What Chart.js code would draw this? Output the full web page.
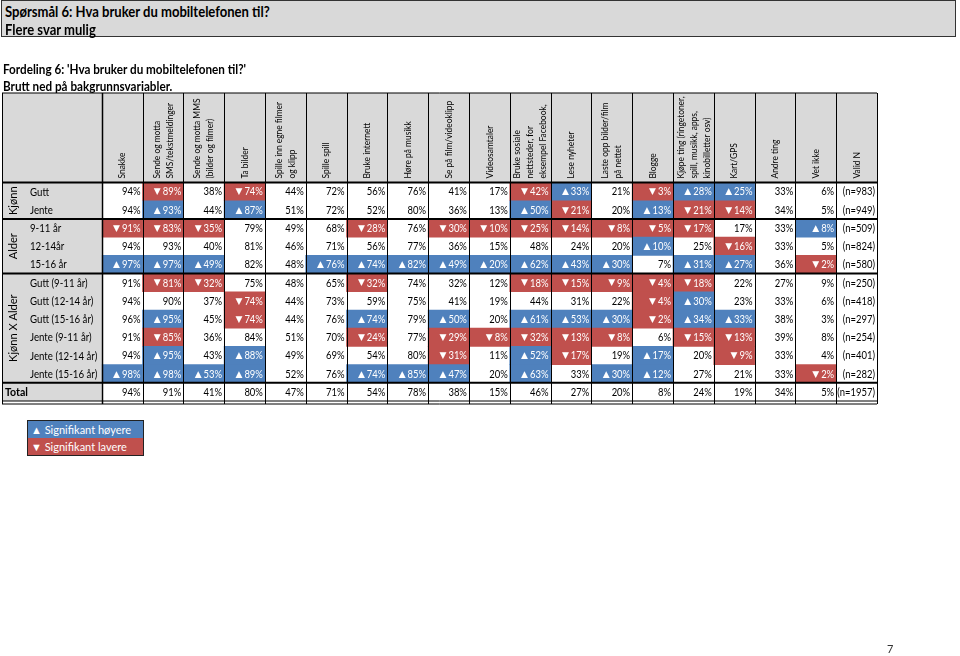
<!DOCTYPE html>
<html>
<head>
<meta charset="utf-8">
<script src="https://cdn.jsdelivr.net/npm/chart.js@4.4.1/dist/chart.umd.min.js"></script>
<style>
  html, body { margin: 0; padding: 0; background: #fff; }
  body { width: 960px; height: 656px; position: relative; overflow: hidden; font-family: Lato, "Noto Sans", sans-serif; }
  #wrap { position: absolute; left: 0; top: 0; width: 960px; height: 656px; }
  .titlebox { position: absolute; left: 1px; top: 0; width: 955px; height: 37px; background: #d9d9d9; border: 1px solid #333; box-sizing: border-box; color: #000; }
  .titlebox span, .sub span { display: block; white-space: nowrap; transform-origin: left center; }
  .titlebox span { font-weight: bold; font-size: 15px; line-height: 18px; transform: scaleX(0.87); margin-left: 3px; }
  .titlebox span:first-child { margin-top: 1px; }
  .sub { position: absolute; left: 3px; top: 61px; color: #000; }
  .sub span { font-weight: bold; font-size: 13px; line-height: 17px; transform: scaleX(0.9); }
  .legend { position: absolute; left: 27px; top: 420px; width: 115px; border: 1px solid #222; font-size: 11px; color: #fff; }
  .legend div { height: 17px; line-height: 17px; padding-left: 3px; }
  .page { position: absolute; left: 887px; top: 642px; font-size: 11px; color: #333; }
</style>
</head>
<body>
<div id="wrap"><canvas id="tablechart" width="960" height="656"></canvas></div>
<div class="titlebox"><span>Spørsmål 6: Hva bruker du mobiltelefonen til?</span><span>Flere svar mulig</span></div>
<div class="sub"><span>Fordeling 6: 'Hva bruker du mobiltelefonen til?'</span><span>Brutt ned på bakgrunnsvariabler.</span></div>
<div class="legend">
  <div style="background:#4f81bd">▲ Signifikant høyere</div>
  <div style="background:#c0504d">▼ Signifikant lavere</div>
</div>
<div class="page">7</div>
<script>
// column headers (each entry = lines of the rotated header)
const columns = [
    ["Snakke"],
    ["Sende og motta", "SMS/tekstmeldinger"],
    ["Sende og motta MMS", "(bilder og filmer)"],
    ["Ta bilder"],
    ["Spille inn egne filmer", "og klipp"],
    ["Spille spill"],
    ["Bruke internett"],
    ["Høre på musikk"],
    ["Se på film/videoklipp"],
    ["Videosamtaler"],
    ["Bruke sosiale", "nettsteder, for", "eksempel Facebook,"],
    ["Lese nyheter"],
    ["Laste opp bilder/film", "på nettet"],
    ["Blogge"],
    ["Kjøpe ting (ringetoner,", "spill, musikk, apps,", "kinobilletter osv)"],
    ["Kart/GPS"],
    ["Andre ting"],
    ["Vet ikke"]
];
const nHeader = ["Valid N"];

const rowLabels = ["Gutt", "Jente", "9-11 år", "12-14år", "15-16 år",
    "Gutt (9-11 år)", "Gutt (12-14 år)", "Gutt (15-16 år)",
    "Jente (9-11 år)", "Jente (12-14 år)", "Jente (15-16 år)", "Total"];

const groupNames = ["Kjønn", "Alder", "Kjønn X Alder"];
const groupStart = [0, 2, 5];
const groupEnd = [1, 4, 10];

// percentages per row
const gutt      = [94, 89, 38, 74, 44, 72, 56, 76, 41, 17, 42, 33, 21, 3, 28, 25, 33, 6];
const jente     = [94, 93, 44, 87, 51, 72, 52, 80, 36, 13, 50, 21, 20, 13, 21, 14, 34, 5];
const age9      = [91, 83, 35, 79, 49, 68, 28, 76, 30, 10, 25, 14, 8, 5, 17, 17, 33, 8];
const age12     = [94, 93, 40, 81, 46, 71, 56, 77, 36, 15, 48, 24, 20, 10, 25, 16, 33, 5];
const age15     = [97, 97, 49, 82, 48, 76, 74, 82, 49, 20, 62, 43, 30, 7, 31, 27, 36, 2];
const gutt9     = [91, 81, 32, 75, 48, 65, 32, 74, 32, 12, 18, 15, 9, 4, 18, 22, 27, 9];
const gutt12    = [94, 90, 37, 74, 44, 73, 59, 75, 41, 19, 44, 31, 22, 4, 30, 23, 33, 6];
const gutt15    = [96, 95, 45, 74, 44, 76, 74, 79, 50, 20, 61, 53, 30, 2, 34, 33, 38, 3];
const jente9    = [91, 85, 36, 84, 51, 70, 24, 77, 29, 8, 32, 13, 8, 6, 15, 13, 39, 8];
const jente12   = [94, 95, 43, 88, 49, 69, 54, 80, 31, 11, 52, 17, 19, 17, 20, 9, 33, 4];
const jente15   = [98, 98, 53, 89, 52, 76, 74, 85, 47, 20, 63, 33, 30, 12, 27, 21, 33, 2];
const total     = [94, 91, 41, 80, 47, 71, 54, 78, 38, 15, 46, 27, 20, 8, 24, 19, 34, 5];

// significance: 1 = significantly higher, -1 = significantly lower
const guttSig    = [0, -1, 0, -1, 0, 0, 0, 0, 0, 0, -1, 1, 0, -1, 1, 1, 0, 0];
const jenteSig   = [0, 1, 0, 1, 0, 0, 0, 0, 0, 0, 1, -1, 0, 1, -1, -1, 0, 0];
const age9Sig    = [-1, -1, -1, 0, 0, 0, -1, 0, -1, -1, -1, -1, -1, -1, -1, 0, 0, 1];
const age12Sig   = [0, 0, 0, 0, 0, 0, 0, 0, 0, 0, 0, 0, 0, 1, 0, -1, 0, 0];
const age15Sig   = [1, 1, 1, 0, 0, 1, 1, 1, 1, 1, 1, 1, 1, 0, 1, 1, 0, -1];
const gutt9Sig   = [0, -1, -1, 0, 0, 0, -1, 0, 0, 0, -1, -1, -1, -1, -1, 0, 0, 0];
const gutt12Sig  = [0, 0, 0, -1, 0, 0, 0, 0, 0, 0, 0, 0, 0, -1, 1, 0, 0, 0];
const gutt15Sig  = [0, 1, 0, -1, 0, 0, 1, 0, 1, 0, 1, 1, 1, -1, 1, 1, 0, 0];
const jente9Sig  = [0, -1, 0, 0, 0, 0, -1, 0, -1, -1, -1, -1, -1, 0, -1, -1, 0, 0];
const jente12Sig = [0, 1, 0, 1, 0, 0, 0, 0, -1, 0, 1, -1, 0, 1, 0, -1, 0, 0];
const jente15Sig = [1, 1, 1, 1, 0, 0, 1, 1, 1, 0, 1, 0, 1, 1, 0, 0, 0, -1];
const totalSig   = [0, 0, 0, 0, 0, 0, 0, 0, 0, 0, 0, 0, 0, 0, 0, 0, 0, 0];

const validN = [983, 949, 509, 824, 580, 250, 418, 297, 254, 401, 282, 1957];

const values = [gutt, jente, age9, age12, age15, gutt9, gutt12, gutt15, jente9, jente12, jente15, total];
const signif = [guttSig, jenteSig, age9Sig, age12Sig, age15Sig, gutt9Sig, gutt12Sig, gutt15Sig, jente9Sig, jente12Sig, jente15Sig, totalSig];

const BLUE = "#4f81bd";
const RED = "#c0504d";
const GREY = "#d9d9d9";
const FONT = "Lato, 'Noto Sans', sans-serif";

function cellColor(s) {
    if (s > 0) return BLUE;
    if (s < 0) return RED;
    return "rgba(0,0,0,0)";
}

// one floating bar per cell: column c covers [c, c+1] on the x scale
const datasets = columns.map((col, c) => ({
    label: col.join(" "),
    data: rowLabels.map(() => [c, c + 1]),
    backgroundColor: rowLabels.map((r, i) => cellColor(signif[i][c])),
    borderWidth: 0,
    grouped: false,
    categoryPercentage: 1,
    barPercentage: 1
}));

function hline(ctx, x1, x2, y, w) {
    ctx.lineWidth = w;
    ctx.beginPath();
    ctx.moveTo(x1, y);
    ctx.lineTo(x2, y);
    ctx.stroke();
}
function vline(ctx, x, y1, y2, w) {
    ctx.lineWidth = w;
    ctx.beginPath();
    ctx.moveTo(x, y1);
    ctx.lineTo(x, y2);
    ctx.stroke();
}
// narrow text a little, the original font is Calibri
function narrowText(ctx, text, x, y, sx) {
    ctx.save();
    ctx.translate(x, y);
    ctx.scale(sx, 1);
    ctx.fillText(text, 0, 0);
    ctx.restore();
}

const tablePlugin = {
    id: "tablePlugin",
    beforeDatasetsDraw(chart) {
        const ctx = chart.ctx;
        const ca = chart.chartArea;
        const xs = chart.scales.x;
        const headTop = ca.top - 89.5;
        const left = 2;
        ctx.save();
        ctx.fillStyle = GREY;
        ctx.fillRect(left, headTop, xs.getPixelForValue(columns.length + 1) - left, ca.top - headTop);
        ctx.fillRect(left, ca.top, xs.getPixelForValue(0) - left, ca.bottom - ca.top);
        ctx.restore();
    },
    afterDatasetsDraw(chart) {
        const ctx = chart.ctx;
        const ca = chart.chartArea;
        const xs = chart.scales.x;
        const rowH = (ca.bottom - ca.top) / rowLabels.length;
        const headTop = ca.top - 89.5;
        const left = 2;
        const xEnd = xs.getPixelForValue(columns.length + 1);
        const rowMid = i => ca.top + (i + 0.5) * rowH;
        const rowEdge = i => ca.top + i * rowH;

        ctx.save();
        // cell values
        ctx.textAlign = "right";
        ctx.textBaseline = "middle";
        values.forEach((row, i) => {
            row.forEach((v, c) => {
                const s = signif[i][c];
                const xr = xs.getPixelForValue(c + 1) - 2;
                const txt = v + "%";
                ctx.font = "10.5px " + FONT;
                ctx.fillStyle = s ? "#fff" : "#000";
                narrowText(ctx, txt, xr, rowMid(i) + 0.5, 0.9);
                if (s) {
                    const w = ctx.measureText(txt).width * 0.9;
                    ctx.font = "9px 'DejaVu Sans', sans-serif";
                    narrowText(ctx, s > 0 ? "▲" : "▼", xr - w - 2, rowMid(i) + 0.5, 1);
                }
            });
            ctx.font = "10.5px " + FONT;
            ctx.fillStyle = "#000";
            narrowText(ctx, "(n=" + validN[i] + ")", xEnd - 2, rowMid(i) + 0.5, 0.9);
        });

        // row labels
        ctx.textAlign = "left";
        ctx.font = "11px " + FONT;
        rowLabels.forEach((lab, i) => {
            if (i === rowLabels.length - 1) {
                ctx.font = "bold 11.5px " + FONT;
                narrowText(ctx, lab, left + 3, rowMid(i) + 0.5, 0.92);
            } else {
                narrowText(ctx, lab, 30, rowMid(i) + 0.5, 0.88);
            }
        });

        // group labels, rotated
        ctx.font = "12px " + FONT;
        ctx.textAlign = "center";
        groupNames.forEach((g, k) => {
            const cy = (rowEdge(groupStart[k]) + rowEdge(groupEnd[k] + 1)) / 2;
            ctx.save();
            ctx.translate(13, cy);
            ctx.rotate(-Math.PI / 2);
            narrowText(ctx, g, 0, 0, 0.92);
            ctx.restore();
        });

        // column headers, rotated
        ctx.font = "10px " + FONT;
        ctx.textAlign = "left";
        columns.concat([nHeader]).forEach((lines, c) => {
            const cx = (xs.getPixelForValue(c) + xs.getPixelForValue(c + 1)) / 2;
            ctx.save();
            ctx.translate(cx, ca.top - 4);
            ctx.rotate(-Math.PI / 2);
            lines.forEach((t, j) => {
                narrowText(ctx, t, 0, (j - (lines.length - 1) / 2) * 13, 0.84);
            });
            ctx.restore();
        });

        // grid lines
        ctx.strokeStyle = "#000";
        for (let c = 0; c <= columns.length + 1; c++) {
            const x = Math.round(xs.getPixelForValue(c)) + 0.5;
            vline(ctx, x, headTop, ca.bottom + 3, c === 0 ? 1.5 : 1);
        }
        vline(ctx, left + 0.5, headTop, ca.bottom + 3, 1);
        hline(ctx, left, xEnd, headTop, 1);
        hline(ctx, left, xEnd, ca.top, 2);
        groupEnd.forEach(e => hline(ctx, left, xEnd, rowEdge(e + 1), 2));
        hline(ctx, left, xEnd, ca.bottom, 1);
        hline(ctx, left, xEnd, ca.bottom + 3, 1);
        ctx.restore();
    }
};

const chart = new Chart(document.getElementById("tablechart").getContext("2d"), {
    type: "bar",
    data: {
        labels: rowLabels,
        datasets: datasets
    },
    options: {
        responsive: false,
        animation: false,
        indexAxis: "y",
        layout: {
            padding: { left: 101.7, right: 83, top: 182.5, bottom: 255 }
        },
        plugins: {
            legend: { display: false },
            tooltip: { enabled: false }
        },
        scales: {
            x: { type: "linear", min: 0, max: columns.length + 1, display: false },
            y: { display: false }
        }
    },
    plugins: [tablePlugin]
});
</script>
</body>
</html>
